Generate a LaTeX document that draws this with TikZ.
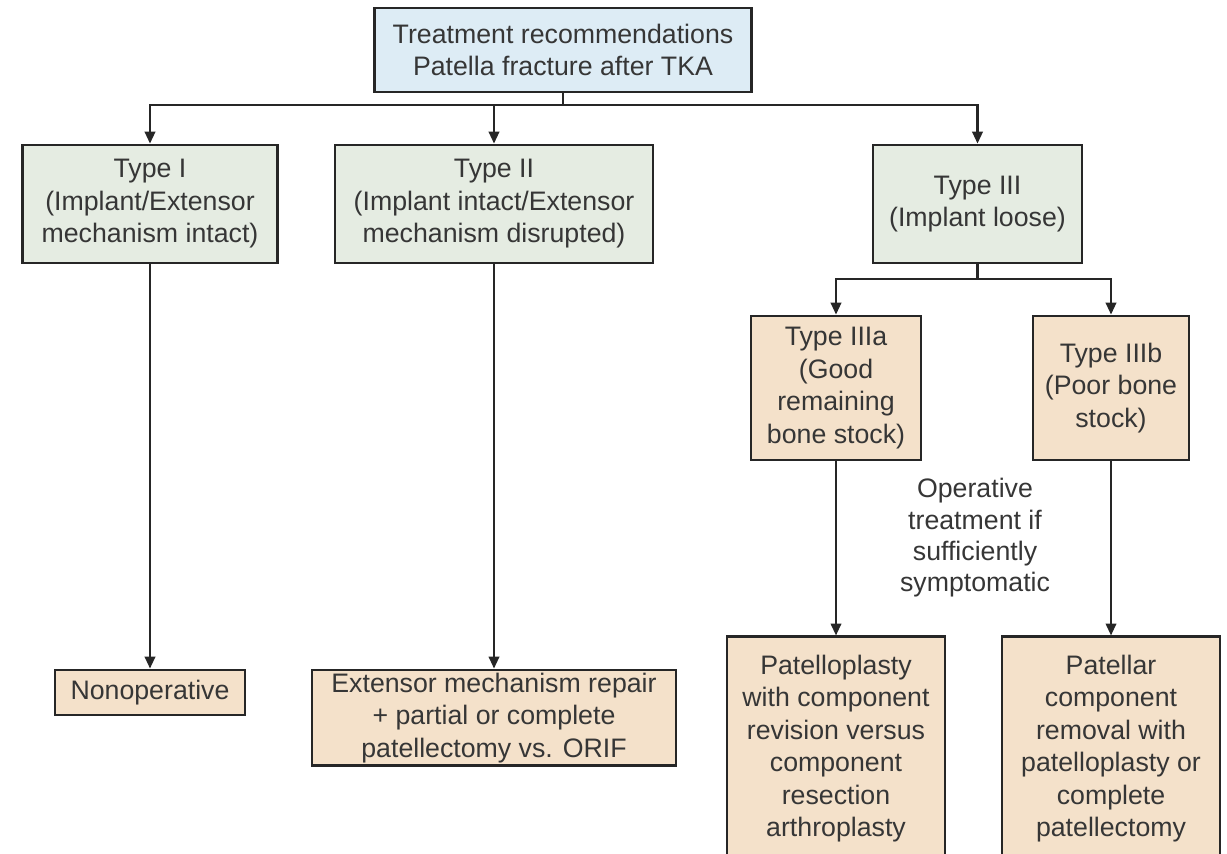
\documentclass[tikz,border=0pt]{standalone}
\usepackage{fontspec}
\setmainfont{Liberation Sans}
\usetikzlibrary{arrows.meta, positioning}
\definecolor{headblue}{HTML}{DDECF5}
\definecolor{typegreen}{HTML}{E5ECE2}
\definecolor{recpeach}{HTML}{F4E1CA}
\definecolor{linegray}{HTML}{262626}
\definecolor{textgray}{HTML}{363636}
\tikzset{
    flowbox/.style={rectangle, draw=linegray, line width=2pt, align=center, text=textgray, font=\fontsize{19}{23.1}\selectfont, inner sep=2pt},
    headbox/.style={flowbox, fill=headblue},
    typebox/.style={flowbox, fill=typegreen},
    recbox/.style={flowbox, fill=recpeach},
    arrow/.style={-{Triangle[length=8.5pt,width=7.5pt]}, line width=1.5pt, linegray},
    link/.style={line width=1.5pt, linegray},
}

\begin{document}
\begin{tikzpicture}[
  x=0.025cm, y=-0.025cm,
  note/.style={align=center, text=textgray, font=\fontsize{19}{22.3}\selectfont}
]
\useasboundingbox (0,0) rectangle (1227,853);

% Head
\node[headbox,minimum width=9.425cm,minimum height=2.1cm] (top) at (563,50) {Treatment recommendations\\Patella fracture after TKA};

% Types
\node[typebox,minimum width=6.375cm,minimum height=2.95cm] (t1) at (150,204) {Type I\\(Implant/Extensor\\mechanism intact)};
\node[typebox,minimum width=7.95cm,minimum height=2.95cm] (t2) at (494,204) {Type II\\(Implant intact/Extensor\\mechanism disrupted)};
\node[typebox,minimum width=5.225cm,minimum height=2.95cm] (t3) at (977.5,204) {Type III\\(Implant loose)};
\node[recbox,minimum width=4.25cm,minimum height=3.6cm] (t3a) at (836,388) {Type IIIa\\(Good\\remaining\\bone stock)};
\node[recbox,minimum width=3.9cm,minimum height=3.6cm] (t3b) at (1111,388) {Type IIIb\\(Poor bone\\stock)};

% Recommendations
\node[recbox,minimum width=4.75cm,minimum height=1.125cm,below=10.1cm of t1] (nonop) {Nonoperative};
\node[recbox,minimum width=9.1cm,minimum height=2.35cm,below=10.1cm of t2] (ext) {Extensor mechanism repair\\+ partial or complete\\patellectomy vs. ORIF};
\node[recbox,minimum width=5.45cm,minimum height=5.575cm,below=4.35cm of t3a] (pp) {Patelloplasty\\with component\\revision versus\\component\\resection\\arthroplasty};
\node[recbox,minimum width=5.45cm,minimum height=5.575cm,below=4.35cm of t3b] (pat) {Patellar\\component\\removal with\\patelloplasty or\\complete\\patellectomy};
\node[note] (opnote) at (975,538) {Operative\\treatment if\\sufficiently\\symptomatic};

% Connections
\coordinate (bus) at (563,105);
\draw[link] (top) -- (bus);
\foreach \t in {t1,t2,t3}
  \draw[arrow] (bus) -| (\t);
\coordinate (bus3) at (977.5,279);
\draw[link] (t3) -- (bus3);
\foreach \t in {t3a,t3b}
  \draw[arrow] (bus3) -| (\t);
\draw[arrow] (t1) -- (nonop);
\draw[arrow] (t2) -- (ext);
\draw[arrow] (t3a) -- (pp);
\draw[arrow] (t3b) -- (pat);
\end{tikzpicture}
\end{document}
